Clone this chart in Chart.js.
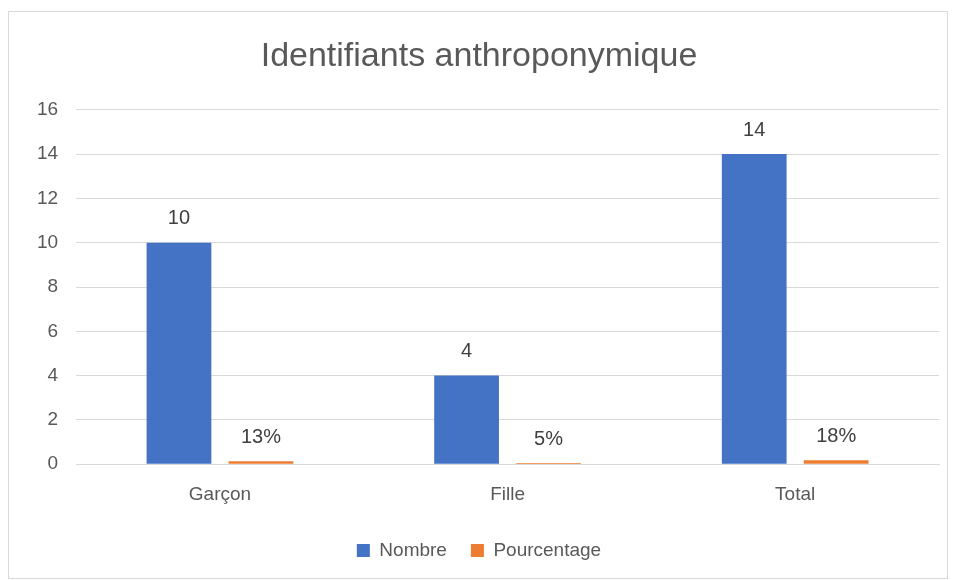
<!DOCTYPE html>
<html>
<head>
<meta charset="utf-8">
<script src="https://cdn.jsdelivr.net/npm/chart.js@4"></script>
<style>
  html, body { margin: 0; padding: 0; background: #fff; }
  #box { position: absolute; left: 8px; top: 11px; width: 940px; height: 568px; border: 1px solid #d9d9d9; box-sizing: border-box; }
  canvas { display: block; }
</style>
</head>
<body>
<div id="box"><canvas id="chart" width="938" height="566"></canvas></div>
<script>
const categories = ['Garçon', 'Fille', 'Total'];
const nombre = [10, 4, 14];
const pourcentage = [0.13, 0.05, 0.18];
const pourcentageLabels = ['13%', '5%', '18%'];
const yTicks = [0, 2, 4, 6, 8, 10, 12, 14, 16];

const FONT = "'Liberation Sans', sans-serif";

// draws the value above each bar, like Excel data labels
const valueLabels = {
  id: 'valueLabels',
  afterDatasetsDraw(chart) {
    const ctx = chart.ctx;
    ctx.save();
    ctx.font = '20px ' + FONT;
    ctx.fillStyle = '#404040';
    ctx.textAlign = 'center';
    ctx.textBaseline = 'bottom';
    chart.data.datasets.forEach((ds, i) => {
      chart.getDatasetMeta(i).data.forEach((bar, j) => {
        const txt = i === 0 ? String(nombre[j]) : pourcentageLabels[j];
        ctx.fillText(txt, bar.x, bar.y - 14);
      });
    });
    ctx.restore();
  }
};

new Chart(document.getElementById('chart').getContext('2d'), {
  type: 'bar',
  data: {
    labels: categories,
    datasets: [
      { label: 'Nombre', data: nombre, backgroundColor: '#4472c4', categoryPercentage: 0.57, barPercentage: 0.79 },
      { label: 'Pourcentage', data: pourcentage, backgroundColor: '#ed7d31', categoryPercentage: 0.57, barPercentage: 0.79 }
    ]
  },
  options: {
    responsive: false,
    animation: false,
    layout: { padding: { left: 10, right: 8, top: 0, bottom: 8 } },
    plugins: {
      title: {
        display: true,
        text: 'Identifiants anthroponymique',
        color: '#595959',
        font: { family: FONT, size: 34, weight: 'normal' },
        padding: { top: 24, bottom: 33 }
      },
      legend: {
        position: 'bottom',
        labels: {
          color: '#595959',
          font: { family: FONT, size: 19 },
          boxWidth: 13,
          boxHeight: 13,
          padding: 24
        }
      },
      tooltip: { enabled: false }
    },
    scales: {
      x: {
        grid: { display: false },
        border: { color: '#d9d9d9' },
        ticks: { color: '#595959', font: { family: FONT, size: 19 }, padding: 11 }
      },
      y: {
        min: 0,
        max: 16,
        afterBuildTicks(axis) { axis.ticks = yTicks.map(v => ({ value: v })); },
        grid: { color: '#d9d9d9', drawTicks: false },
        border: { display: false },
        ticks: { color: '#595959', font: { family: FONT, size: 19 }, padding: 18 }
      }
    }
  },
  plugins: [valueLabels]
});
</script>
</body>
</html>
